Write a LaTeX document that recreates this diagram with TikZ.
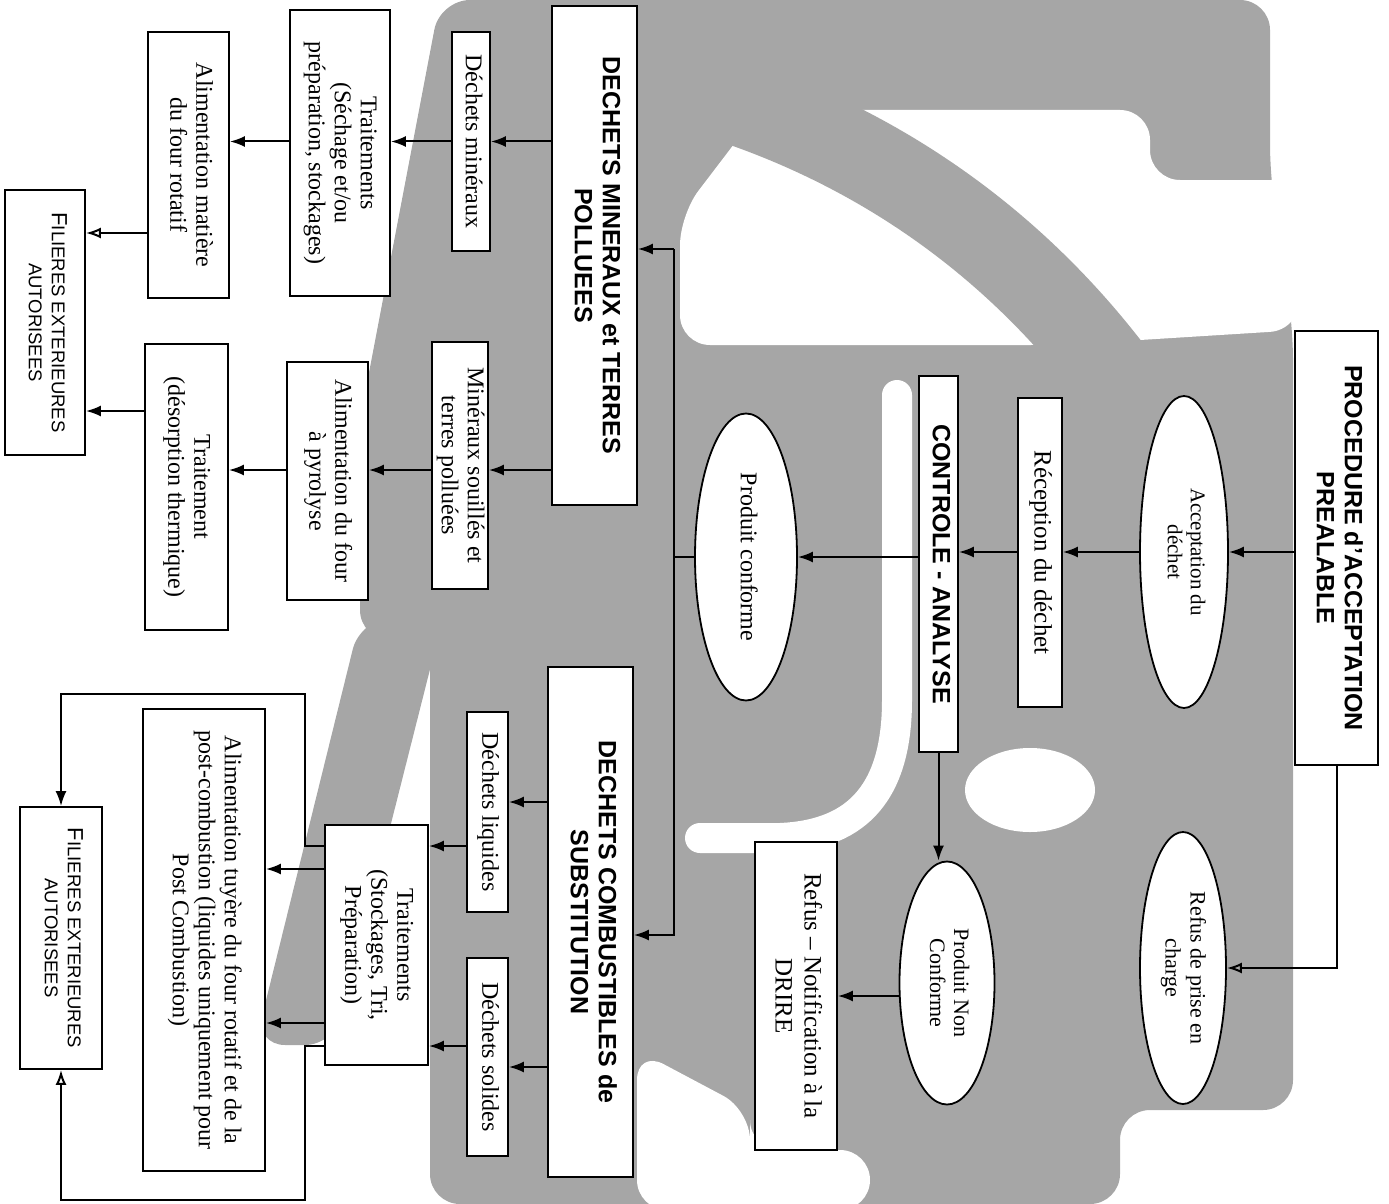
\documentclass[tikz,border=0pt]{standalone}
\usepackage{fontspec}
\setmainfont{Liberation Serif}
\setsansfont{Liberation Sans}
\usepackage{graphicx}
\usetikzlibrary{arrows.meta,shapes.geometric}

\newcommand{\vt}[1]{\rotatebox{-90}{\begin{tabular}{@{}c@{}}#1\end{tabular}}}

\begin{document}
\begin{tikzpicture}[x=1pt,y=-1pt]
\tikzstyle{every node}=[inner sep=0pt, font=\fontsize{24}{26}\selectfont]
\tikzstyle{bx}=[draw, line width=1.8pt, fill=white, rectangle]
\tikzstyle{el}=[draw, line width=1.8pt, fill=white, ellipse]
\tikzstyle{hd}=[font=\sffamily\bfseries\fontsize{25}{28}\selectfont]
\tikzstyle{fl}=[font=\sffamily\fontsize{18.5}{23}\selectfont]
\tikzstyle{ar}=[line width=2pt, -{Latex[length=15pt,width=11pt]}]
\tikzstyle{aro}=[line width=2pt, -{Latex[open,length=15pt,width=11pt]}]
\tikzstyle{wm}=[fill=black!35, rounded corners=30pt]
\tikzstyle{wmb}=[draw=black!35, line cap=round]
\tikzstyle{wmw}=[fill=white, rounded corners=30pt]
\tikzstyle{wms}=[draw=white, line cap=round]
\useasboundingbox (0,0) rectangle (1389,1204);
% watermark
\path[wm] (440,0) -- (1270,0) -- (1270,175) -- (1293,330) -- (1293,1110) -- (1120,1110) -- (1120,1204) -- (430,1204) -- (430,640) -- (360,640) -- (360,420) -- cycle;
\path[wm] (360,620) -- (445,610) -- (335,1045) -- (255,1045) -- cycle;
\path[wmw] (680,345) -- (680,215) -- (760,110) -- (1150,110) -- (1150,180) -- (1300,180) -- (1300,330) -- (1060,345) -- cycle;
\path[wmw] (637,1050) -- (750,1110) -- (750,1150) -- (870,1150) -- (870,1210) -- (637,1210) -- cycle;
\fill[white] (1030,790) ellipse [x radius=65, y radius=42];
\draw[wmb, line width=85pt] (1110,370) .. controls (1010,240) and (880,150) .. (730,100);
\draw[wms, line width=30pt] (897,395) -- (897,700) .. controls (897,800) and (850,835) .. (780,838) -- (700,838);
% boxes
\draw (1336.5,548) node (proc) [bx, hd, minimum width=83, minimum height=434] {\vt{PROCEDURE d'ACCEPTATION\\PREALABLE}};
\draw (1184,552) node (accept) [el, minimum width=88, minimum height=312, font=\fontsize{21}{23}\selectfont] {\vt{Acceptation du\\déchet}};
\draw (1183,968) node (refus) [el, minimum width=86, minimum height=272, font=\fontsize{22}{25}\selectfont] {\vt{Refus de prise en\\charge}};
\draw (1040,552.5) node (recep) [bx, minimum width=44, minimum height=309, font=\fontsize{25}{27}\selectfont] {\vt{Réception du déchet}};
\draw (938.5,564) node (ctrl) [bx, hd, minimum width=39, minimum height=376] {\vt{CONTROLE - ANALYSE}};
\draw (746,557) node (conf) [el, minimum width=102, minimum height=287] {\vt{Produit conforme}};
\draw (947,983) node (nonconf) [el, minimum width=95, minimum height=243, font=\fontsize{22}{24}\selectfont] {\vt{Produit Non\\Conforme}};
\draw (796,996) node (drire) [bx, minimum width=82, minimum height=308, font=\fontsize{25}{29}\selectfont] {\vt{Refus -- Notification à la\\DRIRE}};
\draw (594.5,255.5) node (dm) [bx, hd, minimum width=85, minimum height=499] {\vt{DECHETS MINERAUX et TERRES\\POLLUEES}};
\draw (590.5,922) node (dcs) [bx, hd, minimum width=85, minimum height=510] {\vt{DECHETS COMBUSTIBLES de\\SUBSTITUTION}};
\draw (471,141.5) node (dmin) [bx, minimum width=38, minimum height=219] {\vt{Déchets minéraux}};
\draw (460,465.5) node (souil) [bx, minimum width=56, minimum height=247] {\vt{Minéraux souillés et\\terres polluées}};
\draw (340,153) node (trait1) [bx, minimum width=100, minimum height=286] {\vt{Traitements\\(Séchage et/ou\\préparation, stockages)}};
\draw (327.5,481) node (pyro) [bx, minimum width=81, minimum height=238] {\vt{Alimentation du four\\à pyrolyse}};
\draw (188.5,165) node (alimm) [bx, minimum width=81, minimum height=266] {\vt{Alimentation matière\\du four rotatif}};
\draw (186.5,487) node (desorp) [bx, minimum width=83, minimum height=286] {\vt{Traitement\\(désorption thermique)}};
\draw (45,322.5) node (fil1) [bx, fl, minimum width=80, minimum height=265] {\vt{{\fontsize{22}{22}\selectfont F}ILIERES EXTERIEURES\\AUTORISEES}};
\draw (487.5,812) node (liq) [bx, minimum width=41, minimum height=200] {\vt{Déchets liquides}};
\draw (487.5,1057) node (sol) [bx, minimum width=41, minimum height=198] {\vt{Déchets solides}};
\draw (376.5,945) node (trait2) [bx, minimum width=103, minimum height=240] {\vt{Traitements\\(Stockages, Tri,\\Préparation)}};
\draw (204,940) node (tuy) [bx, minimum width=122, minimum height=462] {\vt{Alimentation tuyère du four rotatif et de la\\post-combustion (liquides uniquement pour\\Post Combustion)}};
\draw (61,938) node (fil2) [bx, fl, minimum width=82, minimum height=262] {\vt{{\fontsize{22}{22}\selectfont F}ILIERES EXTERIEURES\\AUTORISEES}};
% row coordinates
\coordinate (jt) at (674,249);
\coordinate (jb) at (674,935);
\coordinate (r2) at (0,233);
\coordinate (r3) at (0,470);
\coordinate (r4) at (0,411);
\coordinate (r5) at (0,802);
\coordinate (r6) at (0,1067);
\coordinate (r7) at (0,846);
\coordinate (r8) at (0,1046);
\coordinate (r9) at (0,869);
\coordinate (r10) at (0,1023);
\coordinate (c1) at (305,694);
\coordinate (c2) at (61,694);
\coordinate (c3) at (305,1200);
\coordinate (c4) at (61,1200);
% upper chain
\draw[ar] (proc.west |- accept) -- (accept);
\draw[aro] (proc.south) -- (proc.south |- refus) -- (refus);
\draw[ar] (accept) -- (recep.east |- accept);
\draw[ar] (recep.west |- accept) -- (ctrl.east |- accept);
\draw[ar] (ctrl.west |- conf) -- (conf);
\draw[ar] (ctrl.south) -- (ctrl.south |- nonconf.north);
\draw[ar] (nonconf.west |- drire) -- (drire.east);
\draw[line width=2pt] (conf) -- (conf -| jt);
\draw[ar] (jt) -- (dm.east |- jt);
\draw[ar] (jt) -- (jb) -- (dcs.east |- jb);
% mineral branch
\draw[ar] (dm.west |- dmin) -- (dmin);
\draw[ar] (dmin) -- (trait1.east |- dmin);
\draw[ar] (trait1.west |- dmin) -- (alimm.east |- dmin);
\draw[aro] (alimm.west |- r2) -- (fil1.east |- r2);
\draw[ar] (dm.west |- r3) -- (souil.east |- r3);
\draw[ar] (souil.west |- r3) -- (pyro.east |- r3);
\draw[ar] (pyro.west |- r3) -- (desorp.east |- r3);
\draw[ar] (desorp.west |- r4) -- (fil1.east |- r4);
% fuel branch
\draw[ar] (dcs.west |- r5) -- (liq.east |- r5);
\draw[ar] (dcs.west |- r6) -- (sol.east |- r6);
\draw[ar] (liq.west |- r7) -- (trait2.east |- r7);
\draw[ar] (sol.west |- r8) -- (trait2.east |- r8);
\draw[ar] (trait2.west |- r9) -- (tuy.east |- r9);
\draw[ar] (trait2.west |- r10) -- (tuy.east |- r10);
\draw[ar] (trait2.west |- r7) -- (c1 |- r7) -- (c1) -- (c2) -- (fil2.north);
\draw[aro] (trait2.west |- r8) -- (c3 |- r8) -- (c3) -- (c4) -- (fil2.south);
\end{tikzpicture}
\end{document}
